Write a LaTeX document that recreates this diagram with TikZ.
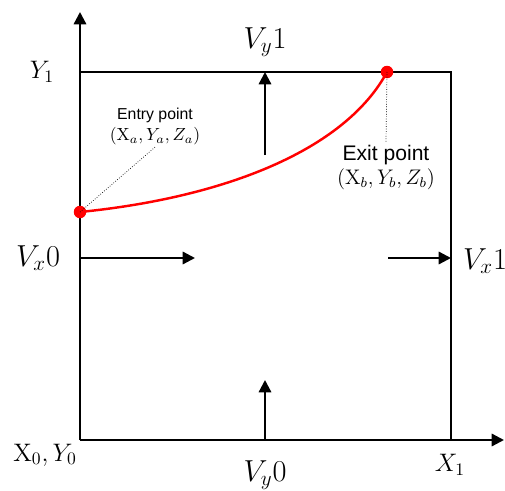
\documentclass[tikz,border=0pt]{standalone}
\usepackage{amsmath}
\usepackage{fontspec}
\usetikzlibrary{arrows.meta}
\newfontfamily\labelfont{Liberation Sans}

\tikzset{
	wall/.style={line width=1.6pt},
	flow/.style={line width=1.3pt, -{Triangle[length=7pt,width=7pt]}},
	track/.style={red, line width=1.4pt},
	pointdot/.style={circle, fill=red, inner sep=0pt, minimum size=0.25cm},
	tag/.style={font=\labelfont\small, align=center, inner sep=1pt},
	bigtag/.style={tag, font=\labelfont\large},
	vlabel/.style={font=\LARGE},
	clabel/.style={font=\Large}
}

\begin{document}
\begin{tikzpicture}
	\useasboundingbox (0, 0) rectangle (10.1, 9.8);
	\coordinate (O) at (1.6, 1);
	\coordinate (Ytop) at (1.6, 9.56);
	\coordinate (Xend) at (10.08, 1);
	\coordinate (TL) at (1.6, 8.36);
	\coordinate (TR) at (9.02, 8.36);
	\coordinate (BR) at (9.02, 1);
	\draw[flow] (O) -- (Ytop);
	\draw[flow] (O) -- (Xend);
	\draw[wall] (O) -- (BR) -- (TR) -- (TL) -- (O);
	\coordinate (Vy1a) at (5.3, 6.7);
	\coordinate (Vy1b) at (5.3, 8.36);
	\coordinate (Vy0a) at (5.3, 1);
	\coordinate (Vy0b) at (5.3, 2.2);
	\coordinate (Vx0a) at (1.6, 4.64);
	\coordinate (Vx0b) at (3.9, 4.64);
	\coordinate (Vx1a) at (7.76, 4.64);
	\coordinate (Vx1b) at (9.02, 4.64);
	\draw[flow] (Vy1a) -- (Vy1b);
	\draw[flow] (Vy0a) -- (Vy0b);
	\draw[flow] (Vx0a) -- (Vx0b);
	\draw[flow] (Vx1a) -- (Vx1b);
	% particle track
	\node[pointdot] (entry) at (1.6, 5.56){};
	\node[pointdot] (exit) at (7.74, 8.36){};
	\draw[track] (entry.center) .. controls (4.5, 5.85) and (6.9, 6.8) .. (exit.center);
	\node[tag] (entrytag) at (3.1, 7.27){Entry point\\[1pt]\normalsize$(\mathrm{X}_a,Y_a,Z_a)$};
	\node[bigtag] (exittag) at (7.72, 6.45){Exit point\\$(\mathrm{X}_b,Y_b,Z_b)$};
	\draw[densely dotted, thin] (entry.center) -- (entrytag.south);
	\draw[densely dotted, thin] (exit.center) -- (exittag.north);
	% axis and wall labels
	\node[clabel] (Y1) at (0.84, 8.36){$Y_1$};
	\node[clabel] (X0Y0) at (0.9, 0.7){$\mathrm{X}_0,Y_0$};
	\node[clabel] (X1) at (9.0, 0.5){$X_1$};
	\node[vlabel] (Vy1) at (5.3, 8.96){$V_y1$};
	\node[vlabel] (Vy0) at (5.3, 0.3){$V_y0$};
	\node[vlabel] (Vx0) at (0.76, 4.64){$V_x0$};
	\node[vlabel] (Vx1) at (9.7, 4.58){$V_x1$};
\end{tikzpicture}
\end{document}
